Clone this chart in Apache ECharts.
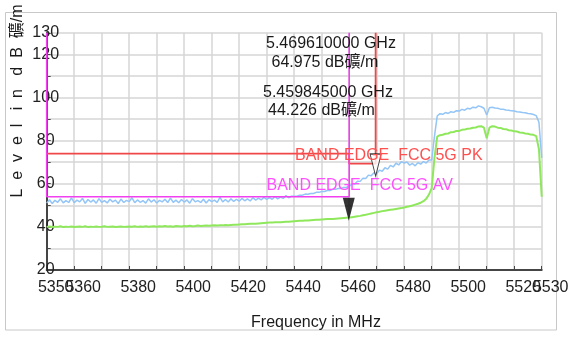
<!DOCTYPE html>
<html><head><meta charset="utf-8">
<script src="https://cdn.jsdelivr.net/npm/echarts@6/dist/echarts.min.js"></script>
<style>html,body{margin:0;padding:0;background:#fff}#c{width:571px;height:338px}</style>
</head><body><div id="c"></div>
<script>
const freqMHz = [5350,5351,5352,5353,5354,5355,5356,5357,5358,5359,5360,5361,5362,5363,5364,5365,5366,5367,5368,5369,5370,5371,5372,5373,5374,5375,5376,5377,5378,5379,5380,5381,5382,5383,5384,5385,5386,5387,5388,5389,5390,5391,5392,5393,5394,5395,5396,5397,5398,5399,5400,5401,5402,5403,5404,5405,5406,5407,5408,5409,5410,5411,5412,5413,5414,5415,5416,5417,5418,5419,5420,5421,5422,5423,5424,5425,5426,5427,5428,5429,5430,5431,5432,5433,5434,5435,5436,5437,5438,5439,5440,5441,5442,5443,5444,5445,5446,5447,5448,5449,5450,5451,5452,5453,5454,5455,5456,5457,5458,5459,5460,5461,5462,5463,5464,5465,5466,5467,5468,5469,5470,5471,5472,5473,5474,5475,5476,5477,5478,5479,5480,5481,5482,5483,5484,5485,5486,5487,5488,5489,5490,5491,5492,5493,5494,5495,5496,5497,5498,5499,5500,5501,5502,5503,5504,5505,5506,5507,5508,5509,5510,5511,5512,5513,5514,5515,5516,5517,5518,5519,5520,5521,5522,5523,5524,5525,5526,5527,5528,5529,5530];
const peakTrace = [
51.0,52.6,50.8,52.3,51.4,53.0,51.1,52.2,51.3,53.4,
51.2,52.4,51.6,53.2,50.9,52.7,51.5,52.5,51.0,53.1,
51.4,52.2,51.1,52.8,51.6,52.4,50.8,52.9,51.3,52.3,
51.7,53.5,51.2,52.5,51.4,52.2,51.0,53.0,51.5,52.6,
51.1,52.3,51.6,52.8,51.3,53.3,51.4,52.4,51.2,52.7,
51.5,52.5,51.0,53.1,51.6,52.2,51.3,52.8,51.1,52.6,
51.7,52.4,51.4,53.7,51.6,52.7,51.5,53.0,51.8,52.8,
51.9,53.2,52.1,53.0,52.0,53.5,52.4,53.3,52.5,53.7,
52.7,53.6,52.8,54.0,53.0,53.8,53.2,54.5,53.5,54.2,
54.2,54.2,54.7,54.7,55.2,55.1,55.5,55.5,56.0,56.0,
56.4,56.4,56.9,56.9,57.4,57.4,57.8,57.8,58.3,58.4,
58.8,59.8,59.8,61.2,61.1,62.6,62.4,64.0,63.7,65.1,
64.6,66.3,65.8,67.4,66.8,68.5,67.8,69.5,68.7,70.3,
69.6,70.1,68.6,69.4,68.3,69.8,69.1,70.3,69.6,71.0,
71.0,82.0,91.4,92.5,92.2,93.0,92.6,93.4,93.1,93.9,
93.7,94.5,94.1,95.0,94.7,95.5,95.2,96.1,95.7,95.0,
91.9,95.2,95.5,95.1,95.0,94.6,94.5,94.2,94.1,93.8,
93.7,93.4,93.3,93.0,92.9,92.6,92.5,92.1,91.6,88.5,
72.0];
const avgTrace = [
40.0,40.2,39.9,40.1,40.0,40.3,39.9,40.1,40.0,40.2,
39.9,40.1,40.2,40.0,40.3,39.9,40.1,40.0,40.2,40.0,
40.1,40.3,40.0,40.1,40.2,39.9,40.1,40.2,40.0,40.1,
40.2,40.1,40.3,40.0,40.2,40.1,40.3,40.1,40.2,40.3,
40.1,40.3,40.2,40.4,40.2,40.3,40.1,40.4,40.3,40.2,
40.4,40.3,40.5,40.3,40.4,40.6,40.4,40.5,40.6,40.5,
40.6,40.7,40.6,40.8,40.7,40.9,40.8,40.9,41.0,41.0,
41.1,41.2,41.2,41.3,41.4,41.5,41.5,41.6,41.7,41.8,
41.9,42.0,42.0,42.1,42.2,42.2,42.3,42.4,42.4,42.5,
42.6,42.7,42.8,42.8,43.0,43.0,43.1,43.2,43.3,43.3,
43.4,43.5,43.6,43.6,43.7,43.8,43.9,44.0,44.1,44.2,
44.3,44.5,44.7,44.9,45.1,45.4,45.6,45.9,46.2,46.5,
46.8,47.0,47.3,47.5,47.7,47.9,48.1,48.3,48.5,48.7,
49.0,49.3,49.6,49.9,50.3,50.7,51.2,51.9,53.0,55.0,
58.0,72.0,81.8,82.5,82.7,83.2,83.3,83.9,84.0,84.5,
84.5,85.0,85.1,85.5,85.6,86.0,86.1,86.6,86.7,86.0,
81.1,86.0,86.7,86.5,86.0,85.9,85.4,85.3,84.8,84.7,
84.3,84.2,83.8,83.7,83.3,83.2,82.8,82.7,82.1,76.0,
54.0];
const pkLimitX = [5350, 5460, 5460, 5469.61, 5469.61];
const pkLimitY = [74, 74, 69.3, 69.3, 130];
const avLimitX = [5350, 5350, 5460, 5460];
const avLimitY = [130, 54, 54, 130];
const markerFreqs = [5469.61, 5459.845];
const markerLevels = [64.975, 44.226];
const xLabelValues = [5360,5380,5400,5420,5440,5460,5480,5500,5520];
const xEndLabelValues = [5350,5530];
const yLabelValues = [20,40,60,80,100,120,130];
const markerTexts = ['5.469610000 GHz','64.975 dB礦/m','5.459845000 GHz','44.226 dB礦/m'];
const limitNames = ['BAND EDGE  FCC 5G PK','BAND EDGE  FCC 5G AV'];
const xName = 'Frequency in MHz';
const yName = 'L  e  v  e  l   i  n   d  B  礦/m';

const FF = "'Liberation Sans', Arial, 'Noto Sans CJK TC', sans-serif";
const zip = (a, b) => a.map((v, i) => [v, b[i]]);
const tri = 'path://M0,0L10,0L5,22Z';
const xLabelStyle = {formatter: v => String(v), fontSize: 16, fontFamily: FF, color: '#222', margin: 10, padding: [0, 0, 0, 18]};

const chart = echarts.init(document.getElementById('c'), null, {renderer: 'canvas'});
const option = {
  animation: false,
  backgroundColor: '#ffffff',
  grid: {left: 46.7, right: 29.3, top: 32.8, bottom: 68, containLabel: false, outerBoundsMode: 'none'},
  xAxis: [{
    type: 'value', min: 5350, max: 5530, interval: 10, position: 'bottom',
    axisLine: {show: true, onZero: false, lineStyle: {color: '#454545', width: 2}},
    axisTick: {show: true, inside: true, length: 4, lineStyle: {color: '#454545', width: 1}},
    axisLabel: Object.assign({customValues: xLabelValues}, xLabelStyle),
    splitLine: {show: true, lineStyle: {color: '#d6d6d6', width: 1.5}}
  }, {
    type: 'value', min: 5350, max: 5530, interval: 10, position: 'bottom', offset: 0,
    axisLine: {show: false, onZero: false}, axisTick: {show: false}, splitLine: {show: false},
    axisLabel: Object.assign({customValues: xEndLabelValues}, xLabelStyle)
  }],
  yAxis: {
    type: 'value', min: 20, max: 130, interval: 10,
    axisLine: {show: true, onZero: false, lineStyle: {color: '#454545', width: 2}},
    axisTick: {show: true, inside: true, length: 4, lineStyle: {color: '#454545', width: 1}},
    axisLabel: {customValues: yLabelValues, showMinLabel: true, showMaxLabel: true, formatter: v => String(v),
      fontSize: 16, fontFamily: FF, color: '#222', align: 'center', margin: 1, padding: [5, 0, 0, 0]},
    splitLine: {show: true, lineStyle: {color: '#d6d6d6', width: 1.5}}
  },
  series: [
    {type: 'line', data: zip(pkLimitX, pkLimitY), showSymbol: false, lineStyle: {color: '#f04848', width: 1.8}, z: 3},
    {type: 'line', data: zip(freqMHz, peakTrace), showSymbol: false, lineStyle: {color: '#93c5f6', width: 1.5}, z: 4},
    {type: 'line', data: zip(freqMHz, avgTrace), showSymbol: false, lineStyle: {color: '#8fe85c', width: 2}, z: 4},
    {type: 'line', data: zip(avLimitX, avLimitY), showSymbol: false, lineStyle: {color: '#f040f0', width: 1.6}, z: 5},
    {type: 'scatter', data: [[markerFreqs[0], markerLevels[0]]], symbol: tri, symbolSize: [11, 22], symbolOffset: [0, -8],
      itemStyle: {color: '#ffffff', borderColor: '#111', borderWidth: 1.2}, z: 6},
    {type: 'scatter', data: [[markerFreqs[1], markerLevels[1]]], symbol: tri, symbolSize: [12, 23], symbolOffset: [0, -8.5],
      itemStyle: {color: '#000000'}, z: 6}
  ],
  graphic: [
    {type: 'rect', shape: {x: 5.5, y: 12.5, width: 551, height: 317.5}, style: {fill: 'none', stroke: '#c8c8c8', lineWidth: 1}, z: 0, silent: true},
    {type: 'text', x: 266, y: 43.5, style: {text: markerTexts[0], font: '16px ' + FF, fill: '#1a1a1a', textVerticalAlign: 'middle'}, z: 100},
    {type: 'text', x: 271.5, y: 62.5, style: {text: markerTexts[1], font: '16px ' + FF, fill: '#1a1a1a', textVerticalAlign: 'middle'}, z: 100},
    {type: 'text', x: 263, y: 93, style: {text: markerTexts[2], font: '16px ' + FF, fill: '#1a1a1a', textVerticalAlign: 'middle'}, z: 100},
    {type: 'text', x: 268, y: 111, style: {text: markerTexts[3], font: '16px ' + FF, fill: '#1a1a1a', textVerticalAlign: 'middle'}, z: 100},
    {type: 'text', x: 295, y: 156, style: {text: limitNames[0], font: '16px ' + FF, fill: '#ff5050', textVerticalAlign: 'middle'}, z: 100},
    {type: 'text', x: 266.5, y: 186, style: {text: limitNames[1], font: '16px ' + FF, fill: '#ff50ff', textVerticalAlign: 'middle'}, z: 100},
    {type: 'text', x: 316, y: 323, style: {text: xName, font: '16px ' + FF, fill: '#1a1a1a', textAlign: 'center', textVerticalAlign: 'middle'}, z: 100},
    {type: 'text', x: 18, y: 101, rotation: Math.PI / 2, style: {text: yName, font: '16px ' + FF, fill: '#1a1a1a', textAlign: 'center', textVerticalAlign: 'middle'}, z: 100}
  ]
};
chart.setOption(option);
</script></body></html>
